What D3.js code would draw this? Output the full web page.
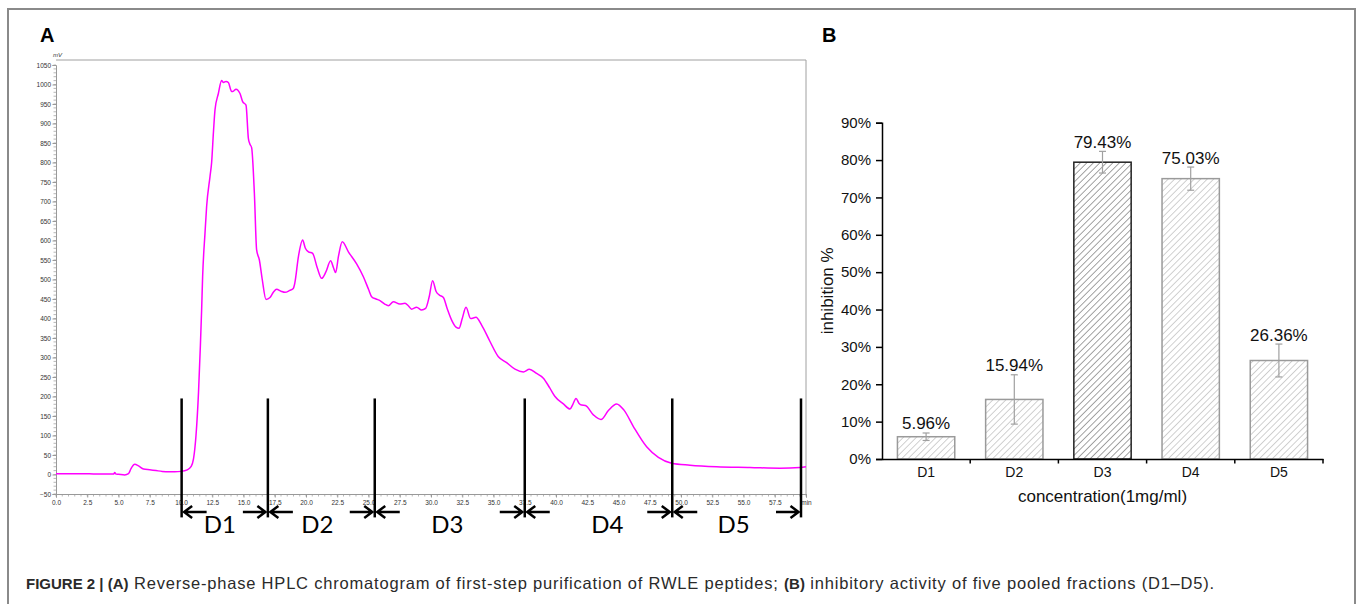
<!DOCTYPE html>
<html>
<head>
<meta charset="utf-8">
<script src="https://cdn.jsdelivr.net/npm/d3@7"></script>
<style>
  html, body { margin: 0; padding: 0; background: #fff; }
  svg { display: block; }
</style>
</head>
<body>
<svg id="chart" width="1362" height="604"></svg>
<script>
// ---------- Panel A data: HPLC chromatogram ----------
const hplcTime = [0, 1, 2, 3, 4, 4.6, 4.7, 4.8, 5.0, 5.5, 5.8, 6.0, 6.3, 6.6, 7.0, 7.5, 8.0, 8.5, 9.0, 9.5,
  10.0, 10.5, 10.8, 11.0, 11.2, 11.4, 11.55, 11.65, 11.73, 11.92, 12.05, 12.32, 12.45, 12.6, 12.72, 12.99,
  13.25, 13.4, 13.6, 13.79, 14.05, 14.15, 14.4, 14.72, 14.93, 15.2, 15.39, 15.5, 15.65, 15.87, 16.05, 16.27,
  16.5, 16.8, 17.12, 17.4, 17.65, 18.0, 18.32, 18.7, 18.98, 19.1, 19.4, 19.73, 19.95, 20.19, 20.53, 20.9,
  21.25, 21.6, 21.97, 22.2, 22.37, 22.6, 22.9, 23.39, 24.05, 24.59, 25.0, 25.25, 25.6, 25.92, 26.3, 26.59,
  26.99, 27.5, 27.92, 28.2, 28.45, 28.85, 29.25, 29.57, 29.85, 30.13, 30.4, 30.67, 30.99, 31.3, 31.65, 32.0,
  32.24, 32.5, 32.8, 33.17, 33.6, 34.05, 34.72, 35.39, 36.05, 36.72, 37.39, 37.87, 38.45, 38.99, 39.5, 39.92,
  40.59, 41.12, 41.35, 41.6, 41.85, 42.05, 42.35, 42.99, 43.6, 44.19, 44.85, 45.44, 46.19, 47.25, 48.19,
  49.25, 50.72, 52.85, 55.52, 57.92, 59.52, 60];
const hplcMv = [2, 2, 2, 1.5, 1, 1, 5, 1, 0.5, -1, 2, 15, 26, 22, 14, 12, 10, 8, 7, 7,
  8, 12, 20, 40, 100, 210, 330, 422, 507, 619, 687, 764, 800, 880, 935, 977,
  1010, 1005, 1008, 1005, 982, 982, 988, 977, 956, 947, 862, 848, 838, 721, 576, 550,
  500, 449, 454, 468, 475, 470, 467, 472, 477, 490, 560, 601, 580, 571, 567, 530,
  503, 520, 548, 530, 518, 560, 597, 571, 540, 507, 475, 456, 450, 446, 437, 433,
  443, 437, 439, 432, 424, 429, 422, 426, 455, 497, 470, 460, 454, 425, 396, 378,
  375, 400, 429, 400, 403, 383, 341, 302, 287, 270, 263, 270, 259, 247, 222, 200,
  181, 168, 180, 195, 182, 178, 177, 153, 141, 164, 181, 165, 123, 71, 44,
  29, 24, 20, 18, 16, 18, 20];
const cutTimes = [10.05, 16.95, 25.5, 37.5, 49.3, 59.6];
const fractionLabels = ["D1", "D2", "D3", "D4", "D5"];
const fractionLabelTimes = [13.1, 20.9, 31.3, 44.1, 54.2];
const xTicksA = [0, 2.5, 5, 7.5, 10, 12.5, 15, 17.5, 20, 22.5, 25, 27.5, 30, 32.5, 35, 37.5, 40, 42.5, 45, 47.5, 50, 52.5, 55, 57.5, 60];
const yTicksA = [-50, 0, 50, 100, 150, 200, 250, 300, 350, 400, 450, 500, 550, 600, 650, 700, 750, 800, 850, 900, 950, 1000, 1050];

// ---------- Panel B data: inhibitory activity ----------
const categories = ["D1", "D2", "D3", "D4", "D5"];
const inhibition = [5.96, 15.94, 79.43, 75.03, 26.36];
const inhibitionErr = [1.0, 6.6, 2.9, 3.1, 4.4];
const yTicksB = [0, 10, 20, 30, 40, 50, 60, 70, 80, 90];

const svg = d3.select("#chart");

// outer frame
svg.append("rect").attr("x", 8).attr("y", 9).attr("width", 1347).attr("height", 610)
  .attr("fill", "none").attr("stroke", "#8a8a8a").attr("stroke-width", 2);

// panel letters
svg.append("text").attr("x", 40).attr("y", 42).text("A")
  .attr("font-family", "Liberation Sans, Arial, sans-serif").attr("font-weight", "bold").attr("font-size", 20);
svg.append("text").attr("x", 822).attr("y", 42).text("B")
  .attr("font-family", "Liberation Sans, Arial, sans-serif").attr("font-weight", "bold").attr("font-size", 20);

// ================= Panel A =================
const xA = d3.scaleLinear().domain([0, 60]).range([56, 806]);
const yA = d3.scaleLinear().domain([-50, 1050]).range([494, 65]);
const gA = svg.append("g");

// frame (top and right)
gA.append("path").attr("d", `M56,60H806V494`).attr("fill", "none").attr("stroke", "#a0a0a0").attr("stroke-width", 1);

// minor ticks
const xMinor = d3.range(0, 60.01, 0.5);
const yMinor = d3.range(-50, 1050.01, 10);
gA.append("g").selectAll("line").data(xMinor).join("line")
  .attr("x1", d => xA(d)).attr("x2", d => xA(d)).attr("y1", 494).attr("y2", 496.5)
  .attr("stroke", "#999").attr("stroke-width", 0.7);
gA.append("g").selectAll("line").data(yMinor).join("line")
  .attr("y1", d => yA(d)).attr("y2", d => yA(d)).attr("x1", 56).attr("x2", 53.5)
  .attr("stroke", "#999").attr("stroke-width", 0.7);

const axAx = gA.append("g").attr("transform", "translate(0,494)")
  .call(d3.axisBottom(xA).tickValues(xTicksA).tickSize(3.5).tickPadding(3)
    .tickFormat(d => d === 60 ? "min" : d.toFixed(1)));
const axAy = gA.append("g").attr("transform", "translate(56,0)")
  .call(d3.axisLeft(yA).tickValues(yTicksA).tickSize(3.5).tickPadding(1.5).tickFormat(d3.format("d")));
[axAx, axAy].forEach(a => {
  a.select(".domain").attr("stroke", "#999");
  a.selectAll(".tick line").attr("stroke", "#999");
  a.selectAll(".tick text").attr("font-family", "Liberation Sans Narrow, Arial Narrow, sans-serif")
    .attr("font-size", 6.5).attr("fill", "#333");
});
gA.append("text").attr("x", 53).attr("y", 57).text("mV")
  .attr("font-family", "Liberation Sans Narrow, sans-serif").attr("font-size", 6).attr("font-style", "italic").attr("fill", "#333");

// chromatogram line
const hplc = hplcTime.map((t, i) => ({ t, v: hplcMv[i] }));
gA.append("path").datum(hplc)
  .attr("d", d3.line().x(d => xA(d.t)).y(d => yA(d.v)).curve(d3.curveMonotoneX))
  .attr("fill", "none").attr("stroke", "#ff00ff").attr("stroke-width", 1.5);

// fraction cut lines
gA.append("g").selectAll("line").data(cutTimes).join("line")
  .attr("x1", d => xA(d)).attr("x2", d => xA(d))
  .attr("y1", yA(195)).attr("y2", yA(-110))
  .attr("stroke", "#000").attr("stroke-width", 2.5);

// arrows
const arrowY = yA(-96);
const arrows = [];
cutTimes.forEach((c, i) => {
  if (i < cutTimes.length - 1) arrows.push({ tip: xA(c) + 2.5, tail: xA(c) + 25 });
  if (i > 0) arrows.push({ tip: xA(c) - 2.5, tail: xA(c) - 25 });
});
gA.append("g").selectAll("path").data(arrows).join("path")
  .attr("d", d => {
    const s = Math.sign(d.tail - d.tip);
    return `M${d.tail},${arrowY}H${d.tip}M${d.tip + s * 8},${arrowY - 6}L${d.tip},${arrowY}L${d.tip + s * 8},${arrowY + 6}`;
  })
  .attr("fill", "none").attr("stroke", "#000").attr("stroke-width", 2.5);

gA.append("g").selectAll("text").data(fractionLabels).join("text")
  .attr("x", (d, i) => xA(fractionLabelTimes[i])).attr("y", 533)
  .attr("text-anchor", "middle").text(d => d)
  .attr("font-family", "Lato, Carlito, sans-serif").attr("font-size", 24).attr("fill", "#000");

// ================= Panel B =================
const xB = d3.scaleBand().domain(categories).range([882, 1323]).paddingInner(0.35).paddingOuter(0.175);
const yB = d3.scaleLinear().domain([0, 90]).range([459, 122.7]);
const gB = svg.append("g");

const defs = svg.append("defs");
function hatch(id, color, width) {
  const p = defs.append("pattern").attr("id", id).attr("patternUnits", "userSpaceOnUse")
    .attr("width", 4.6).attr("height", 4.6).attr("patternTransform", "rotate(45)");
  p.append("line").attr("x1", 0).attr("y1", -1).attr("x2", 0).attr("y2", 6)
    .attr("stroke", color).attr("stroke-width", width);
}
hatch("hatchGray", "#9a9a9a", 0.9);
hatch("hatchDark", "#333", 0.9);

const barData = categories.map((c, i) => ({ c, v: inhibition[i], e: inhibitionErr[i], dark: c === "D3" }));

gB.append("g").selectAll("rect").data(barData).join("rect")
  .attr("x", d => xB(d.c)).attr("width", xB.bandwidth())
  .attr("y", d => yB(d.v)).attr("height", d => yB(0) - yB(d.v))
  .attr("fill", d => d.dark ? "url(#hatchDark)" : "url(#hatchGray)")
  .attr("stroke", d => d.dark ? "#222" : "#9a9a9a").attr("stroke-width", 1.5);

// error bars
const eb = gB.append("g").selectAll("g").data(barData).join("g")
  .attr("stroke", "#a0a0a0").attr("stroke-width", 1.2);
eb.append("line").attr("x1", d => xB(d.c) + xB.bandwidth() / 2).attr("x2", d => xB(d.c) + xB.bandwidth() / 2)
  .attr("y1", d => yB(d.v + d.e)).attr("y2", d => yB(d.v - d.e));
eb.append("line").attr("x1", d => xB(d.c) + xB.bandwidth() / 2 - 3.5).attr("x2", d => xB(d.c) + xB.bandwidth() / 2 + 3.5)
  .attr("y1", d => yB(d.v + d.e)).attr("y2", d => yB(d.v + d.e));
eb.append("line").attr("x1", d => xB(d.c) + xB.bandwidth() / 2 - 3.5).attr("x2", d => xB(d.c) + xB.bandwidth() / 2 + 3.5)
  .attr("y1", d => yB(d.v - d.e)).attr("y2", d => yB(d.v - d.e));

// value labels
gB.append("g").selectAll("text").data(barData).join("text")
  .attr("x", d => xB(d.c) + xB.bandwidth() / 2).attr("y", d => yB(d.v + d.e) - 3.5)
  .attr("text-anchor", "middle").text(d => d.v.toFixed(2) + "%")
  .attr("font-family", "Liberation Sans, Arial, sans-serif").attr("font-size", 17).attr("fill", "#111");

// axes
const axBy = gB.append("g").attr("transform", "translate(882,0)")
  .call(d3.axisLeft(yB).tickValues(yTicksB).tickSize(6).tickPadding(5).tickFormat(d => d + "%"));
const axBx = gB.append("g").attr("transform", "translate(0,459)")
  .call(d3.axisBottom(xB).tickSize(0).tickPadding(8));
// boundary ticks between categories
const bounds = categories.map(c => xB(c) + xB.bandwidth() + xB.step() * xB.paddingInner() / 2);
gB.append("g").selectAll("line").data(bounds).join("line")
  .attr("x1", d => d).attr("x2", d => d).attr("y1", 459).attr("y2", 463.5)
  .attr("stroke", "#000").attr("stroke-width", 1.5);
[axBx, axBy].forEach(a => {
  a.select(".domain").attr("stroke", "#000").attr("stroke-width", 1.5);
  a.selectAll(".tick line").attr("stroke", "#000").attr("stroke-width", 1.5);
  a.selectAll(".tick text").attr("font-family", "Liberation Sans, Arial, sans-serif").attr("fill", "#111");
});
axBy.selectAll(".tick text").attr("font-size", 15);
axBx.selectAll(".tick text").attr("font-size", 14);

gB.append("text").attr("x", (882 + 1323) / 2).attr("y", 501.5).attr("text-anchor", "middle")
  .text("concentration(1mg/ml)")
  .attr("font-family", "Liberation Sans, Arial, sans-serif").attr("font-size", 17).attr("fill", "#111");
gB.append("text").attr("transform", `translate(833,${(459 + 122.7) / 2}) rotate(-90)`).attr("text-anchor", "middle")
  .text("inhibition %")
  .attr("font-family", "Liberation Sans, Arial, sans-serif").attr("font-size", 17).attr("fill", "#111");

// caption
const cap = svg.append("text").attr("x", 26).attr("y", 589)
  .attr("font-family", "Liberation Sans, Arial, sans-serif").attr("font-size", 15).attr("fill", "#2a2a2a");
cap.append("tspan").attr("font-weight", "bold").text("FIGURE 2 | (A)");
const capR1 = cap.append("tspan").attr("class", "reg").attr("font-size", 16.5)
  .text(" Reverse-phase HPLC chromatogram of first-step purification of RWLE peptides; ");
cap.append("tspan").attr("font-weight", "bold").text("(B)");
const capR2 = cap.append("tspan").attr("class", "reg").attr("font-size", 16.5)
  .text(" inhibitory activity of five pooled fractions (D1–D5).");
// stretch regular-weight text to the reference caption width
const targetEnd = 1215;
const curW = cap.node().getComputedTextLength();
const nReg = (capR1.text() + capR2.text()).length;
const extra = (targetEnd - 26 - curW) / nReg;
if (extra > 0) cap.selectAll("tspan.reg").attr("letter-spacing", extra.toFixed(3));
</script>
</body>
</html>
